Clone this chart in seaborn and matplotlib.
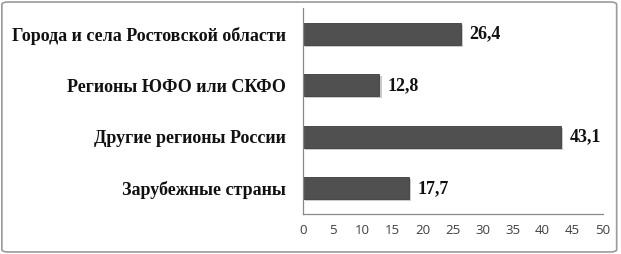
import numpy as np
import pandas as pd
import matplotlib
matplotlib.use("Agg")
import matplotlib.pyplot as plt
import matplotlib.patheffects as pe
import seaborn as sns
from matplotlib.patches import FancyBboxPatch

categories = ["Города и села Ростовской области", "Регионы ЮФО или СКФО",
              "Другие регионы России", "Зарубежные страны"]
values = [26.4, 12.8, 43.1, 17.7]
value_labels = ["26,4", "12,8", "43,1", "17,7"]
x_ticks = [0, 5, 10, 15, 20, 25, 30, 35, 40, 45, 50]

df = pd.DataFrame({"region": categories, "share": values})

sns.set_style("white")

fig = plt.figure(figsize=(6.21, 2.54), dpi=100)
ax = fig.add_axes([0.4874, 0.1575, 0.4831, 0.811])

sns.barplot(data=df, y="region", x="share", orient="h", color="#505050",
            saturation=1, width=0.43, ax=ax, edgecolor="#3c3c3c", linewidth=0.6)

# soft drop shadow like the original office chart
for bar in ax.patches:
    bar.set_path_effects([pe.SimplePatchShadow(offset=(1.5, -1.5), shadow_rgbFace="#999999", alpha=0.5),
                          pe.Normal()])

for i, (v, lab) in enumerate(zip(values, value_labels)):
    ax.text(v + 1.4, i, lab, va="center", ha="left", fontsize=13,
            fontweight="bold", family="Liberation Serif", color="#111111")

ax.set_xlim(0, 50)
ax.set_ylim(3.5, -0.5)
ax.set_xticks(x_ticks)
ax.set_xticklabels([str(t) for t in x_ticks], family="Open Sans", fontsize=9.5, color="#404040")
ax.set_yticks(range(len(categories)))
ax.set_yticklabels(categories, family="Liberation Serif", fontsize=13,
                   fontweight="bold", color="#111111")
ax.set_yticks([-0.5, 0.5, 1.5, 2.5, 3.5], minor=True)
ax.tick_params(axis="y", which="major", length=0, pad=12)
ax.tick_params(axis="y", which="minor", length=3.6, color="#888888", width=0.8, direction="out")
ax.tick_params(axis="x", length=2.5, color="#888888", width=0.8, direction="out", pad=5)
ax.set_xlabel("")
ax.set_ylabel("")

for side in ["top", "right"]:
    ax.spines[side].set_visible(False)
for side in ["left", "bottom"]:
    ax.spines[side].set_color("#888888")
    ax.spines[side].set_linewidth(0.9)

border = FancyBboxPatch((0.003, 0.008), 0.99, 0.984, boxstyle="round,pad=0,rounding_size=0.01",
                        transform=fig.transFigure, fill=False, edgecolor="#9a9a9a", linewidth=1.2)
fig.patches.append(border)

fig.savefig("out.png", dpi=100)
